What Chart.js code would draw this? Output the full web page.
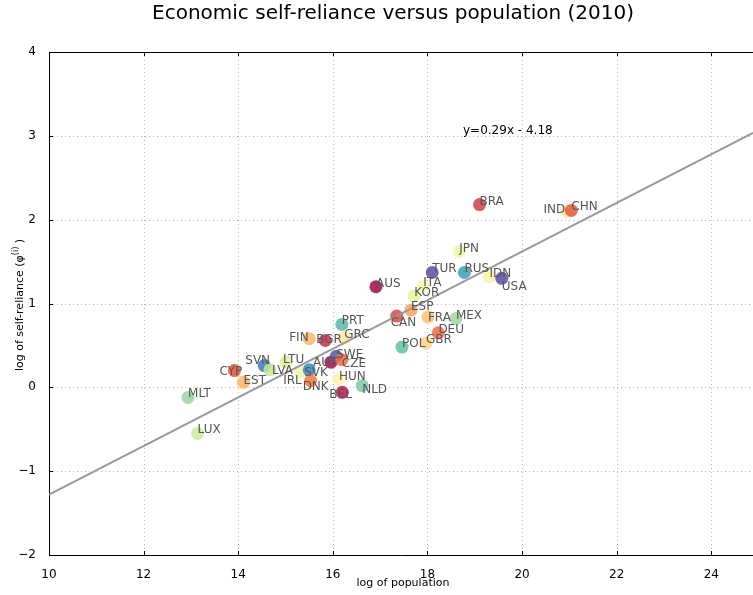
<!DOCTYPE html>
<html>
<head>
<meta charset="utf-8">
<script src="https://cdn.jsdelivr.net/npm/chart.js@4"></script>
<style>
  body { margin: 0; background: #fff; }
  canvas { display: block; }
</style>
</head>
<body>
<canvas id="chart" width="753" height="595"></canvas>
<script>
const countries = ['MLT', 'LUX', 'CYP', 'EST', 'SVN', 'LVA', 'LTU', 'IRL', 'SVK', 'DNK',
	'FIN', 'BGR', 'AUT', 'SWE', 'CZE', 'GRC', 'PRT', 'HUN', 'BEL', 'NLD',
	'AUS', 'CAN', 'ESP', 'KOR', 'ITA', 'TUR', 'FRA', 'POL', 'GBR', 'DEU',
	'MEX', 'JPN', 'RUS', 'IDN', 'USA', 'BRA', 'IND', 'CHN'];
const logPopulation = [12.94, 13.14, 13.92, 14.11, 14.55, 14.67, 15.01, 15.31, 15.50, 15.53,
	15.50, 15.84, 15.96, 16.07, 16.19, 16.24, 16.19, 16.13, 16.20, 16.62,
	16.91, 17.35, 17.65, 17.72, 17.91, 18.10, 18.01, 17.46, 17.97, 18.23,
	18.60, 18.67, 18.78, 19.31, 19.57, 19.10, 20.96, 21.04];
const logSelfReliance = [-0.12, -0.55, 0.20, 0.06, 0.26, 0.21, 0.30, 0.18, 0.21, 0.08,
	0.58, 0.56, 0.30, 0.37, 0.33, 0.59, 0.75, 0.10, -0.06, 0.02,
	1.20, 0.85, 0.92, 1.09, 1.21, 1.37, 0.84, 0.48, 0.53, 0.65,
	0.82, 1.62, 1.37, 1.32, 1.30, 2.18, 2.10, 2.11];
const pointColors = ['#99d5a4', '#cfeb9a', '#e2553c', '#fdb366', '#3e7fbb', '#c6e79a', '#def29e', '#eef7ab', '#3b88bd', '#f67a45',
	'#fdb86a', '#c9304d', '#a4114a', '#5b5aa5', '#f46d43', '#fee89a', '#5bb9a7', '#fff3ae', '#c2194e', '#7fcaa4',
	'#a50f45', '#dc4a4c', '#fba35f', '#e6f59a', '#f4fab0', '#5a52a0', '#fdc272', '#66c2a5', '#fed584', '#f46d43',
	'#a5d8a2', '#f2f8a8', '#3ea0b8', '#fff3a5', '#5e4fa2', '#d53e4f', '#fee899', '#e85b46'];
const xTicks = [10, 12, 14, 16, 18, 20, 22, 24];
const yTicks = [-2, -1, 0, 1, 2, 3, 4];
const slope = 0.29;
const intercept = -4.18;
const xMin = 10, xMax = 24.88, yMin = -2, yMax = 4;

// label nudges in px (dx, dy), the rest sit at the point
const labelNudge = {
	FIN: [-20, 2], BGR: [-9, 3], SVN: [-19, -2], LTU: [-3, 1], LVA: [2, 4],
	CYP: [-15, 4], EST: [0, 2], AUT: [-18, 4], SWE: [0, 2], CZE: [0, 7],
	SVK: [-5, 6], IRL: [-17, 12], DNK: [-8, 9], HUN: [0, 1], BEL: [-13, 6],
	NLD: [0, 7], USA: [0, 12], CAN: [-6, 10], FRA: [0, 4], IND: [-24, 2]
};

const FONT = '"DejaVu Sans", sans-serif';
const points = countries.map((c, i) => ({ x: logPopulation[i], y: logSelfReliance[i] }));

const extras = {
	id: 'extras',
	beforeDatasetsDraw(chart) {
		// dotted grid like matplotlib
		const ctx = chart.ctx;
		const a = chart.chartArea;
		const xs = chart.scales.x, ys = chart.scales.y;
		ctx.save();
		ctx.strokeStyle = '#b8b8b8';
		ctx.lineWidth = 1;
		ctx.setLineDash([1, 3]);
		ctx.beginPath();
		xTicks.slice(1).forEach(v => {
			const px = Math.round(xs.getPixelForValue(v)) + 0.5;
			ctx.moveTo(px, a.top); ctx.lineTo(px, a.bottom);
		});
		yTicks.slice(1, -1).forEach(v => {
			const py = Math.round(ys.getPixelForValue(v)) + 0.5;
			ctx.moveTo(a.left, py); ctx.lineTo(a.right, py);
		});
		ctx.stroke();
		ctx.restore();
	},
	afterDatasetsDraw(chart) {
		const ctx = chart.ctx;
		const xs = chart.scales.x, ys = chart.scales.y;
		ctx.save();
		ctx.font = '12px ' + FONT;
		ctx.fillStyle = '#555555';
		ctx.textAlign = 'left';
		ctx.textBaseline = 'alphabetic';
		countries.forEach((c, i) => {
			const n = labelNudge[c] || [0, 0];
			ctx.fillText(c, xs.getPixelForValue(points[i].x) + n[0], ys.getPixelForValue(points[i].y) + n[1]);
		});
		ctx.restore();
	},
	afterDraw(chart) {
		const ctx = chart.ctx;
		const a = chart.chartArea;
		const xs = chart.scales.x, ys = chart.scales.y;
		ctx.save();
		// frame top + inside ticks
		ctx.strokeStyle = '#000';
		ctx.lineWidth = 1;
		ctx.beginPath();
		ctx.moveTo(a.left, a.top + 0.5);
		ctx.lineTo(a.right, a.top + 0.5);
		xTicks.forEach(v => {
			const px = Math.round(xs.getPixelForValue(v)) + 0.5;
			ctx.moveTo(px, a.bottom); ctx.lineTo(px, a.bottom - 4);
			ctx.moveTo(px, a.top); ctx.lineTo(px, a.top + 4);
		});
		yTicks.forEach(v => {
			const py = Math.round(ys.getPixelForValue(v)) + 0.5;
			ctx.moveTo(a.left, py); ctx.lineTo(a.left + 4, py);
		});
		ctx.stroke();

		ctx.fillStyle = '#000';
		ctx.font = '20px ' + FONT;
		ctx.textAlign = 'center';
		ctx.fillText('Economic self-reliance versus population (2010)', 393, 19);

		ctx.font = '12px ' + FONT;
		ctx.textAlign = 'left';
		ctx.fillText('y=' + slope + 'x - ' + Math.abs(intercept), 463, 134);

		ctx.font = '11px ' + FONT;
		ctx.textAlign = 'center';
		ctx.fillText('log of population', 403, 586);

		// y title with superscript
		ctx.translate(23, 305);
		ctx.rotate(-Math.PI / 2);
		const main = 'log of self-reliance (\u03c6';
		const sup = '(i)';
		ctx.font = '11px ' + FONT;
		const w1 = ctx.measureText(main).width;
		ctx.font = '8px ' + FONT;
		const w2 = ctx.measureText(sup).width;
		ctx.font = '11px ' + FONT;
		const w3 = ctx.measureText(' )').width;
		let x0 = -(w1 + w2 + w3) / 2;
		ctx.textAlign = 'left';
		ctx.fillText(main, x0, 0);
		ctx.font = '8px ' + FONT;
		ctx.fillText(sup, x0 + w1, -5);
		ctx.font = '11px ' + FONT;
		ctx.fillText(' )', x0 + w1 + w2, 0);
		ctx.restore();
	}
};

new Chart(document.getElementById('chart'), {
	data: {
		datasets: [{
			type: 'scatter',
			data: points,
			backgroundColor: pointColors.map(c => c + 'dd'),
			pointRadius: 6.5,
			pointHoverRadius: 6.5,
			borderWidth: 0,
			order: 1
		}, {
			type: 'line',
			data: [{ x: xMin, y: slope * xMin + intercept }, { x: xMax, y: slope * xMax + intercept }],
			borderColor: '#999999',
			borderWidth: 2,
			pointRadius: 0,
			order: 0
		}]
	},
	options: {
		responsive: false,
		animation: false,
		layout: { autoPadding: false, padding: { top: 52, left: 0, right: 0, bottom: 0 } },
		plugins: { legend: { display: false }, tooltip: { enabled: false } },
		scales: {
			x: {
				type: 'linear',
				min: xMin,
				max: xMax,
				afterBuildTicks: s => { s.ticks = xTicks.map(v => ({ value: v })); },
				afterFit: s => { s.height = 40; s.paddingRight = 0; s.paddingLeft = 0; },
				grid: { display: false },
				border: { display: true, color: '#000', width: 1 },
				ticks: { font: { family: FONT, size: 12 }, color: '#000', padding: 5, maxRotation: 0 }
			},
			y: {
				type: 'linear',
				min: yMin,
				max: yMax,
				afterBuildTicks: s => { s.ticks = yTicks.map(v => ({ value: v })); },
				afterFit: s => { s.width = 49; s.paddingTop = 0; s.paddingBottom = 0; },
				grid: { display: false },
				border: { display: true, color: '#000', width: 1 },
				ticks: {
					font: { family: FONT, size: 12 }, color: '#000', padding: 5,
					callback: v => String(v).replace('-', '\u2212')
				}
			}
		}
	},
	plugins: [extras]
});
</script>
</body>
</html>
